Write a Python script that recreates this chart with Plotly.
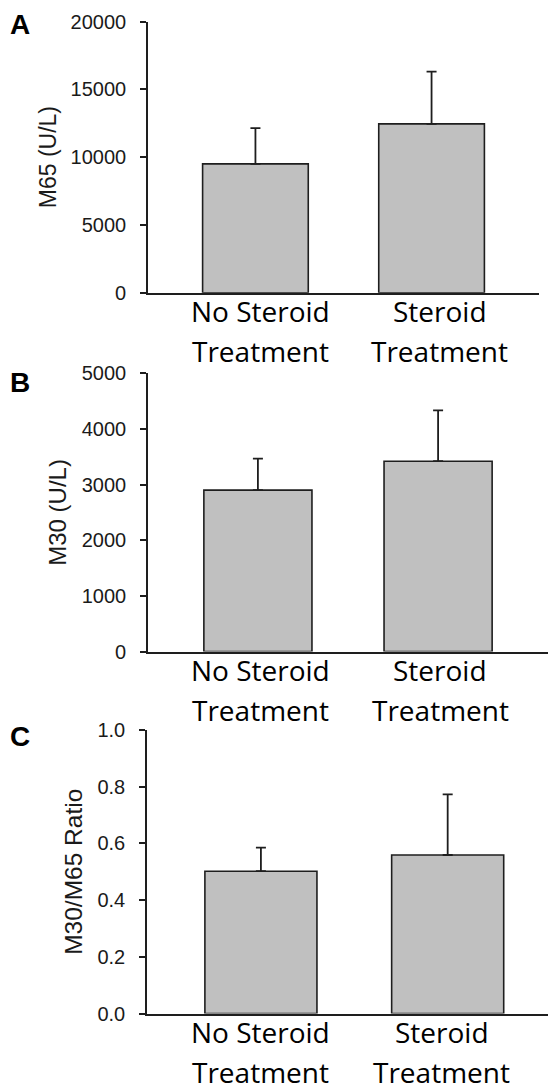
import plotly.graph_objects as go

# ---- data ----
categories = ["No Steroid Treatment", "Steroid Treatment"]
label_line1 = ["No Steroid", "Steroid"]
label_line2 = ["Treatment", "Treatment"]

m65_mean = [9500, 12450]
m65_err = [2630, 3860]
m30_mean = [2900, 3420]
m30_err = [565, 915]
ratio_mean = [0.502, 0.559]
ratio_err = [0.083, 0.214]

panel_letters = ["A", "B", "C"]
y_titles = ["M65 (U/L)", "M30 (U/L)", "M30/M65 Ratio"]
y_ranges = [[0, 20000], [0, 5000], [0, 1.0]]
y_dticks = [5000, 1000, 0.2]
y_formats = ["d", "d", ".1f"]

means = [m65_mean, m30_mean, ratio_mean]
errs = [m65_err, m30_err, ratio_err]

# ---- layout geometry (pixels in the final page) ----
PAGE_W, PAGE_H = 556, 1091
OFF = 8  # default page margin in which the figure sits
W, H = PAGE_W - OFF, PAGE_H - OFF
geom = [
    dict(x0=148, x1=539, top=21.5, bot=292.7, xr=[-0.61, 1.61], tsize=23, xs=[5, 8], lb=35),
    dict(x0=148, x1=548, top=373.3, bot=651.5, xr=[-0.61, 1.61], tsize=24, xs=[3, 2], lb=393),
    dict(x0=147, x1=556, top=730, bot=1013.5, xr=[-0.61, 1.58], tsize=24.5, xs=[0, -6], lb=747),
]


def px(x):
    return min(1.0, (x - OFF) / W)


def py(y):
    return 1 - (y - OFF) / H


INK = "#1e1e1e"
fig = go.Figure()
annotations = []

for i in range(3):
    g = geom[i]
    xa = "x" if i == 0 else f"x{i+1}"
    ya = "y" if i == 0 else f"y{i+1}"
    fig.add_trace(go.Bar(
        x=categories, y=means[i], xaxis=xa, yaxis=ya,
        width=0.6,
        marker=dict(color="#c0c0c0", line=dict(color=INK, width=1.6)),
        error_y=dict(type="data", array=errs[i], arrayminus=[0, 0], symmetric=False,
                     color=INK, thickness=1.8, width=5),
        showlegend=False, hoverinfo="skip",
    ))
    xkey = "xaxis" if i == 0 else f"xaxis{i+1}"
    ykey = "yaxis" if i == 0 else f"yaxis{i+1}"
    fig.update_layout({
        xkey: dict(domain=[px(g["x0"]), px(g["x1"])], anchor=ya, range=g["xr"],
                   automargin=False,
                   showline=True, linecolor=INK, linewidth=1.6, showgrid=False,
                   zeroline=False, showticklabels=False, ticks=""),
        ykey: dict(domain=[py(g["bot"]), py(g["top"])], anchor=xa,
                   automargin=False,
                   range=y_ranges[i], dtick=y_dticks[i], tick0=0, tickformat=y_formats[i],
                   showline=True, linecolor=INK, linewidth=1.6, showgrid=False,
                   zeroline=False, ticks="outside", ticklen=6, tickwidth=1.6, tickcolor=INK,
                   ticklabelstandoff=10,
                   tickfont=dict(family="Liberation Sans", size=20, color="#1a1a1a"),
                   title=dict(text=y_titles[i], standoff=8,
                              font=dict(family="Liberation Sans", size=g["tsize"],
                                        color="#1a1a1a"))),
    })
    for j in range(2):
        annotations.append(dict(x=categories[j], y=0, xref=xa, yref=f"{ya} domain",
                                text=label_line1[j], showarrow=False, xanchor="center",
                                yanchor="top", yshift=3, xshift=g["xs"][j],
                                font=dict(family="Open Sans", size=28, color="#000")))
        annotations.append(dict(x=categories[j], y=0, xref=xa, yref=f"{ya} domain",
                                text=label_line2[j], showarrow=False, xanchor="center",
                                yanchor="top", yshift=-37, xshift=g["xs"][j],
                                font=dict(family="Open Sans", size=28, color="#000")))
    annotations.append(dict(x=px(8), y=py(g["lb"] + 7), xref="paper", yref="paper",
                            text=f"<b>{panel_letters[i]}</b>", showarrow=False,
                            xanchor="left", yanchor="bottom",
                            font=dict(family="Liberation Sans", size=28, color="#000")))

fig.update_layout(width=W, height=H, margin=dict(l=0, r=0, t=0, b=0),
                  paper_bgcolor="white", plot_bgcolor="white",
                  annotations=annotations, bargap=0.4)

fig.write_html("out.html")
